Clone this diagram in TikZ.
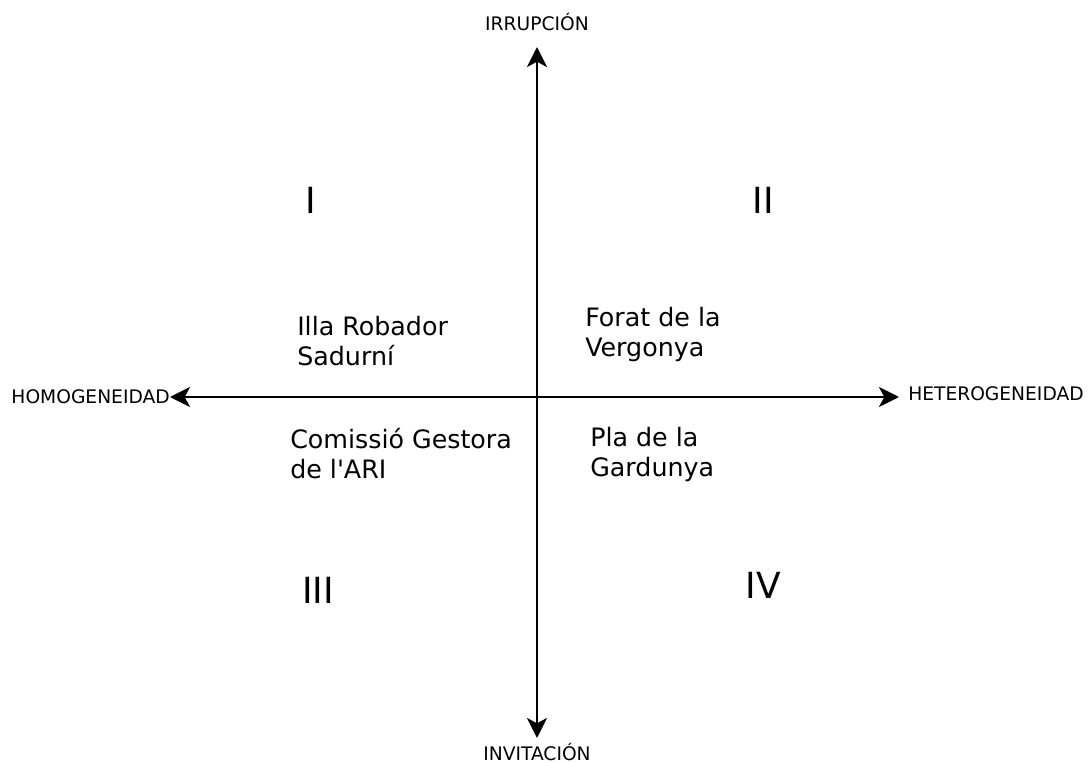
\documentclass[tikz,border=0pt]{standalone}
\usepackage{fontspec}
\setmainfont{DejaVu Sans}[Ligatures=TeXOff]
\usetikzlibrary{arrows.meta,positioning}
\tikzstyle{axislabel} = [font=\fontsize{14}{17}\selectfont, inner sep=0pt]
\tikzstyle{quadrant} = [font=\fontsize{27}{32}\selectfont, inner sep=0pt]
\tikzstyle{case} = [font=\fontsize{19}{22.5}\selectfont, align=left, anchor=west, inner sep=0pt]
\tikzstyle{axis} = [line width=2.2pt, {Stealth[length=15pt,width=15pt,inset=4pt]}-{Stealth[length=15pt,width=15pt,inset=4pt]}]

\begin{document}
\begin{tikzpicture}[x=0.75pt, y=-0.75pt]

\useasboundingbox (0,0) rectangle (1090,763);

\coordinate (origin) at (537,397);
\coordinate (top) at (537,47);
\coordinate (bottom) at (537,738);
\coordinate (left) at (170,397);
\coordinate (right) at (899,397);

\node [axislabel] (irrupcion) at (537,22) {IRRUPCIÓN};
\node [axislabel] (invitacion) at (537,752) {INVITACIÓN};
\node [axislabel, left=0pt of left] (homog) {HOMOGENEIDAD};
\node [axislabel, anchor=west] (heterog) at (908,394) {HETEROGENEIDAD};

\draw [axis] (bottom) -- (top);
\draw [axis] (left) -- (right);

\node [quadrant] (q1) at (311,200) {I};
\node [quadrant] (q2) at (763,200) {II};
\node [quadrant] (q3) at (318,590) {III};
\node [quadrant] (q4) at (763,585) {IV};

\node [case] (illa) at (297,341) {Illa Robador\\Sadurní};
\node [case] (forat) at (585,335) {Forat de la\\Vergonya};
\node [case] (comissio) at (290,454) {Comissió Gestora\\de l'ARI};
\node [case] (pla) at (590,455) {Pla de la\\Gardunya};

\end{tikzpicture}
\end{document}
